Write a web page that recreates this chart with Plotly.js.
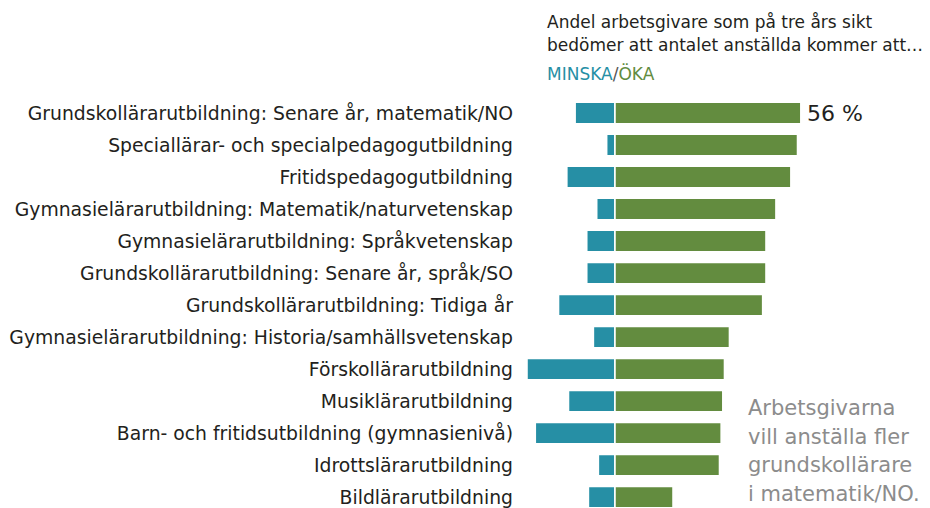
<!DOCTYPE html>
<html>
<head>
<meta charset="utf-8">
<script src="https://cdn.plot.ly/plotly-3.0.1.min.js"></script>
<style>html,body{margin:0;padding:0;background:#fff;}#chart{width:930px;height:508px;}</style>
</head>
<body>
<div id="chart"></div>
<script>
const categories = [
  "Grundskollärarutbildning: Senare år, matematik/NO",
  "Speciallärar- och specialpedagogutbildning",
  "Fritidspedagogutbildning",
  "Gymnasielärarutbildning: Matematik/naturvetenskap",
  "Gymnasielärarutbildning: Språkvetenskap",
  "Grundskollärarutbildning: Senare år, språk/SO",
  "Grundskollärarutbildning: Tidiga år",
  "Gymnasielärarutbildning: Historia/samhällsvetenskap",
  "Förskollärarutbildning",
  "Musiklärarutbildning",
  "Barn- och fritidsutbildning (gymnasienivå)",
  "Idrottslärarutbildning",
  "Bildlärarutbildning"
];
const minska = [12, 2.5, 14.5, 5.5, 8.5, 8.5, 17, 6.5, 26.5, 14, 24, 5, 8];
const oka = [56, 55, 53, 48.5, 45.5, 45.5, 44.5, 34.5, 33, 32.5, 32, 31.5, 17.5];
const titleLines = ["Andel arbetsgivare som på tre års sikt", "bedömer att antalet anställda kommer att…"];
const noteLines = ["Arbetsgivarna", "vill anställa fler", "grundskollärare", "i matematik/NO."];

const blue = "#268fa5";
const green = "#638c3f";
const font = "DejaVu Sans, Open Sans, sans-serif";

const traces = [
  {type: "bar", orientation: "h", y: categories, x: minska.map(v => -v),
   marker: {color: blue, line: {color: "#ffffff", width: 1.6}}, hoverinfo: "skip", name: "Minska"},
  {type: "bar", orientation: "h", y: categories, x: oka,
   marker: {color: green, line: {color: "#ffffff", width: 1.6}}, hoverinfo: "skip", name: "Öka"}
];

// plot area: x 520..930, y 97..508
const px = x => (x - 520) / 410;
const py = y => (508 - y) / 411;

const annotations = [
  {xref: "x", yref: "y", x: oka[0], y: categories[0], text: oka[0] + " %",
   showarrow: false, xanchor: "left", xshift: 4,
   font: {family: font, size: 22, color: "#231f20"}},
  {xref: "paper", yref: "paper", x: px(545), y: py(73),
   xanchor: "left", yanchor: "middle", showarrow: false,
   text: "<span style='color:" + blue + "'>MINSKA</span><span style='color:#555'>/</span><span style='color:" + green + "'>ÖKA</span>",
   font: {family: font, size: 17}}
];
titleLines.forEach((t, i) => annotations.push({
  xref: "paper", yref: "paper", x: px(545), y: py(22 + i * 23),
  xanchor: "left", yanchor: "middle", showarrow: false, text: t,
  font: {family: font, size: 17, color: "#231f20"}
}));
noteLines.forEach((t, i) => annotations.push({
  xref: "paper", yref: "paper", x: px(746), y: py(408 + i * 28.5),
  xanchor: "left", yanchor: "middle", showarrow: false, text: t,
  font: {family: font, size: 21, color: "#8c8c8c"}
}));

const layout = {
  width: 930, height: 508,
  margin: {l: 520, r: 0, t: 97, b: 0, pad: 0},
  paper_bgcolor: "#fff", plot_bgcolor: "#fff",
  barmode: "relative", bargap: 0.33,
  showlegend: false,
  font: {family: font, color: "#231f20"},
  xaxis: {
    range: [-28.6, 94.9], showgrid: false, showticklabels: false, ticks: "",
    zeroline: false, fixedrange: true
  },
  yaxis: {
    type: "category", range: [12.34, -0.5], showgrid: false, zeroline: false,
    ticks: "", ticklabelstandoff: 6,
    tickfont: {family: font, size: 18.8, color: "#231f20"}, fixedrange: true
  },
  annotations: annotations
};

Plotly.newPlot("chart", traces, layout, {staticPlot: true, displayModeBar: false});
</script>
</body>
</html>
